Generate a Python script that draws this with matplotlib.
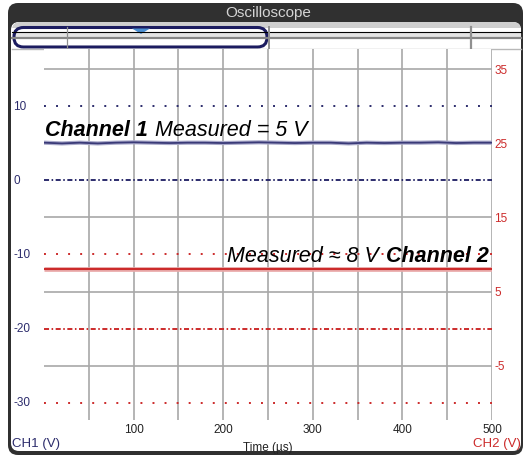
import matplotlib
matplotlib.use("Agg")
import matplotlib.pyplot as plt
from matplotlib.patches import FancyBboxPatch, Rectangle, Polygon

plt.rcParams['font.family'] = ['Liberation Sans', 'DejaVu Sans']
plt.rcParams['axes.unicode_minus'] = False

# data
time_us = [0, 20, 40, 60, 80, 100, 120, 140, 160, 180, 200, 220, 240, 260,
           280, 300, 320, 340, 360, 380, 400, 420, 440, 460, 480, 500]
ch1_v = [5.0, 4.9, 5.0, 4.9, 5.0, 5.05, 5.0, 4.95, 5.0, 5.0, 4.95, 5.0, 5.05,
         5.0, 4.95, 5.0, 5.0, 4.9, 5.0, 4.95, 5.0, 5.0, 5.05, 4.95, 5.0, 5.0]
ch2_t = [0, 500]
ch2_v = [8.0, 8.0]

ch1_dotted = [10]
ch1_dashdot = [0]
ch2_dotted = [10, -10]
ch2_dashdot = [0]

xticks_major = [100, 200, 300, 400, 500]
xticks_minor = [50, 150, 250, 350, 450]
ch1_ticks = [10, 0, -10, -20, -30]
ch2_ticks = [35, 25, 15, 5, -5]

NAVY = '#2c2c6c'
RED = '#cc2b2b'
GRID = '#a8a8a8'

W, H = 524, 457
fig = plt.figure(figsize=(W / 100, H / 100), dpi=100)

# frame / decorations in pixel coords
deco = fig.add_axes([0, 0, 1, 1], zorder=0)
deco.set_xlim(0, W)
deco.set_ylim(H, 0)
deco.axis('off')
deco.add_patch(FancyBboxPatch((8, 3), 515, 452, boxstyle="round,pad=0,rounding_size=10",
                              fc='#303030', ec='none'))
deco.add_patch(FancyBboxPatch((11, 22), 510, 429, boxstyle="round,pad=0,rounding_size=8",
                              fc='white', ec='none'))
deco.add_patch(FancyBboxPatch((12, 22), 509, 27, boxstyle="round,pad=0,rounding_size=8",
                              fc='#cfcfcf', ec='none'))
deco.add_patch(Rectangle((12, 28), 509, 21, fc='white', ec='none'))
deco.add_patch(Rectangle((12, 33), 509, 4, fc='#e4e4e4', ec='none'))
deco.plot([12, 521], [32, 32], color='black', lw=0.8)
deco.plot([12, 521], [37.5, 37.5], color='#858585', lw=1.6)
deco.plot([12, 521], [49, 49], color='#b8b8b8', lw=1)
deco.plot([67, 67], [27, 49], color='#909090', lw=0.9)
deco.plot([269, 269], [27, 49], color='#909090', lw=1.4)
deco.plot([471, 471], [27, 49], color='#909090', lw=1.6)
deco.add_patch(FancyBboxPatch((14, 27.5), 253, 19.5, boxstyle="round,pad=0,rounding_size=9.5",
                              fc='none', ec='#1c1c60', lw=2.2))
deco.add_patch(Polygon([(132, 28.5), (150, 28.5), (141, 34)], closed=True,
                       fc='#4b8fd2', ec='none'))
deco.text(268, 12.5, 'Oscilloscope', color='#d4d4d4', fontsize=11,
          ha='center', va='center')
deco.text(12, 444, 'CH1 (V)', color=NAVY, fontsize=9.5, ha='left', va='center')
deco.text(521, 444, 'CH2 (V)', color=RED, fontsize=9.5, ha='right', va='center')

# main plot: ax holds channel 2 scale (right), ax1 holds channel 1 scale (left)
left, right, top, bottom = 44, 492, 49, 420
ax = fig.add_axes([left / W, 1 - bottom / H, (right - left) / W, (bottom - top) / H], zorder=1)
ax.set_facecolor('white')
ax.set_xlim(0, 500)
ax.set_ylim(-12.35, 37.75)
for s in ax.spines.values():
    s.set_visible(False)
ax.set_xticks(xticks_major)
ax.set_xticks(xticks_minor, minor=True)
ax.set_yticks(ch2_ticks)
ax.grid(True, which='both', axis='x', color=GRID, lw=1.2)
ax.grid(True, axis='y', color=GRID, lw=1.2)
ax.set_axisbelow(True)
ax.set_xlabel('Time (µs)', fontsize=8.5, color='#222222', labelpad=4)

for v in ch2_dotted:
    ax.plot([0, 500], [v, v], color=RED, lw=1.4, ls=(0, (1, 5.2)))
for v in ch2_dashdot:
    ax.plot([0, 500], [v, v], color=RED, lw=1.4, ls=(0, (2.6, 1.3, 0.8, 1.3)))
ax.plot(ch2_t, ch2_v, color='#e9a9a9', lw=3.4, solid_capstyle='butt')
ax.plot(ch2_t, ch2_v, color=RED, lw=1.5, solid_capstyle='butt')
ax.text(374, 9.0, 'Measured ≈ 8 V', fontsize=15.5, style='italic', ha='right', va='baseline')
ax.text(497, 9.0, 'Channel 2', fontsize=15.5, style='italic', weight='bold',
        ha='right', va='baseline')

ax1 = ax.twinx()
ax1.set_ylim(-32.45, 17.65)
for s in ax1.spines.values():
    s.set_visible(False)
ax1.yaxis.tick_left()
ax1.set_yticks(ch1_ticks)
ax1.tick_params(axis='y', length=0, pad=22.3, labelsize=8.5, labelcolor=NAVY)
for lab in ax1.get_yticklabels():
    lab.set_ha('left')

# twinx moves the original ticks to the left, so put them back on the right
ax.yaxis.tick_right()
ax.tick_params(axis='x', which='both', length=0, pad=3, labelsize=8.5, labelcolor='#222222')
ax.tick_params(axis='y', length=0, pad=1.5, labelsize=8.5, labelcolor=RED)

for v in ch1_dotted:
    ax1.plot([0, 500], [v, v], color=NAVY, lw=1.4, ls=(0, (1, 5.2)))
for v in ch1_dashdot:
    ax1.plot([0, 500], [v, v], color=NAVY, lw=1.4, ls=(0, (2.6, 1.3, 0.8, 1.3)))
ax1.plot(time_us, ch1_v, color='#a9a9c9', lw=3.0, solid_capstyle='butt')
ax1.plot(time_us, ch1_v, color='#3a3a78', lw=1.3, solid_capstyle='butt')
ax1.text(1, 5.9, 'Channel 1', fontsize=15.5, style='italic', weight='bold',
         ha='left', va='baseline')
ax1.text(124, 5.9, 'Measured = 5 V', fontsize=15.5, style='italic', ha='left', va='baseline')

fig.savefig('out.png', dpi=100)
